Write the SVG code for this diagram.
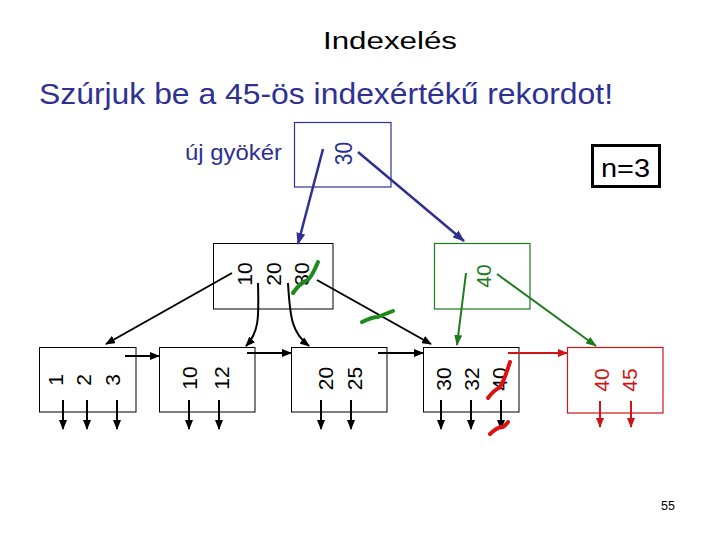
<svg xmlns="http://www.w3.org/2000/svg" width="720" height="540" viewBox="0 0 720 540">
<style>
text{font-family:"Liberation Sans",Arial,sans-serif}
.k{font-size:21px;text-anchor:middle}
.box{fill:none;stroke:#000;stroke-width:1}
.blk{stroke:#000;stroke-width:2;fill:none}
.nav{stroke:#2E3192;stroke-width:2.5;fill:none}
.grn{stroke:#1E7B1E;stroke-width:2;fill:none}
.red{stroke:#D01414;stroke-width:2;fill:none}
.gmark{stroke:#1E8A1E;stroke-width:4;fill:none;stroke-linecap:round}
.rmark{stroke:#E01010;stroke-width:4;fill:none;stroke-linecap:round}
</style>
<defs>
<marker id="ak" markerWidth="10" markerHeight="8" refX="9" refY="4" orient="auto" markerUnits="userSpaceOnUse"><path d="M0,0 L10,4 L0,8 Z" fill="#000"/></marker>
<marker id="an" markerWidth="12" markerHeight="9" refX="11" refY="4.5" orient="auto" markerUnits="userSpaceOnUse"><path d="M0,0 L12,4.5 L0,9 Z" fill="#2E3192"/></marker>
<marker id="ag" markerWidth="11" markerHeight="8" refX="10" refY="4" orient="auto" markerUnits="userSpaceOnUse"><path d="M0,0 L11,4 L0,8 Z" fill="#1E7B1E"/></marker>
<marker id="ar" markerWidth="10" markerHeight="8" refX="9" refY="4" orient="auto" markerUnits="userSpaceOnUse"><path d="M0,0 L10,4 L0,8 Z" fill="#D01414"/></marker>
</defs>
<rect width="720" height="540" fill="#fff"/>
<text x="323" y="49" font-size="23.5" textLength="134" lengthAdjust="spacingAndGlyphs" fill="#000">Indexelés</text>
<text x="39" y="104" font-size="30" textLength="574" lengthAdjust="spacingAndGlyphs" fill="#2E3192">Szúrjuk be a 45-ös indexértékű rekordot!</text>
<text x="185" y="160" font-size="21.5" textLength="97" lengthAdjust="spacingAndGlyphs" fill="#2E3192">új gyökér</text>
<g id="n3">
<rect x="592.5" y="145.5" width="67" height="41" fill="none" stroke="#000" stroke-width="3"/>
<text x="601" y="177" font-size="25" textLength="49" lengthAdjust="spacingAndGlyphs" fill="#000">n=3</text>
</g>
<text x="668" y="510" font-size="12.5" text-anchor="middle" fill="#000">55</text>
<g id="root">
<rect x="294.5" y="122.5" width="96.5" height="64.5" fill="none" stroke="#2E3192" stroke-width="1.2"/>
<text class="k" transform="translate(351.5,153.5) scale(1.15,1) rotate(-90)" fill="#2E3192">30</text>
</g>
<g id="inner1">
<rect class="box" x="213.5" y="243.5" width="119.5" height="65.5"/>
<text class="k" transform="translate(252,274) rotate(-90)">10</text>
<text class="k" transform="translate(280.5,274) rotate(-90)">20</text>
<text class="k" transform="translate(309,274) rotate(-90)">30</text>
</g>
<g id="inner2">
<rect x="434.5" y="243.5" width="95.5" height="65.5" fill="none" stroke="#1E7B1E" stroke-width="1.2"/>
<text class="k" transform="translate(490.5,276) rotate(-90)" fill="#1E7B1E">40</text>
</g>
<g id="leaf1">
<rect class="box" x="39.5" y="347.5" width="96.5" height="64.5"/>
<text class="k" transform="translate(62.5,380) rotate(-90)">1</text>
<text class="k" transform="translate(90.5,380) rotate(-90)">2</text>
<text class="k" transform="translate(119.5,380) rotate(-90)">3</text>
</g>
<g id="leaf2">
<rect class="box" x="159.5" y="347.5" width="95.5" height="64.5"/>
<text class="k" transform="translate(197,378) rotate(-90)">10</text>
<text class="k" transform="translate(229,378) rotate(-90)">12</text>
</g>
<g id="leaf3">
<rect class="box" x="291.5" y="347.5" width="95.5" height="64.5"/>
<text class="k" transform="translate(332.5,378.5) rotate(-90)">20</text>
<text class="k" transform="translate(361.5,378.5) rotate(-90)">25</text>
</g>
<g id="leaf4">
<rect class="box" x="423.5" y="347.5" width="95.5" height="64.5"/>
<text class="k" transform="translate(451,379) rotate(-90)">30</text>
<text class="k" transform="translate(479,379) rotate(-90)">32</text>
<text class="k" transform="translate(506.5,379) rotate(-90)">40</text>
</g>
<g id="leaf5">
<rect x="567.5" y="347.5" width="95.5" height="65.5" fill="none" stroke="#D01414" stroke-width="1.2"/>
<text class="k" transform="translate(608.5,380) rotate(-90)" fill="#D01414">40</text>
<text class="k" transform="translate(637,380) rotate(-90)" fill="#D01414">45</text>
</g>
<g id="connectors">
<line class="nav" x1="323" y1="149" x2="298" y2="244" marker-end="url(#an)"/>
<line class="nav" x1="358" y1="152" x2="464" y2="241" marker-end="url(#an)"/>
<line class="blk" x1="232" y1="273" x2="106" y2="344" marker-end="url(#ak)"/>
<path class="blk" d="M258,283 C259,318 259,332 246,346" marker-end="url(#ak)"/>
<path class="blk" d="M288,283 C290,318 292,333 309,346" marker-end="url(#ak)"/>
<line class="blk" x1="317" y1="280" x2="431" y2="344" marker-end="url(#ak)"/>
<line class="grn" x1="466" y1="273" x2="457" y2="345" marker-end="url(#ag)"/>
<line class="grn" x1="497" y1="274" x2="596" y2="346" marker-end="url(#ag)"/>
<line class="blk" x1="125" y1="356" x2="159" y2="356" marker-end="url(#ak)"/>
<line class="blk" x1="247" y1="353" x2="291" y2="353" marker-end="url(#ak)"/>
<line class="blk" x1="378" y1="353" x2="423" y2="353" marker-end="url(#ak)"/>
<line class="red" x1="508" y1="353" x2="567" y2="353" marker-end="url(#ar)"/>
<g class="blk">
<line x1="63" y1="400" x2="63" y2="429" marker-end="url(#ak)"/>
<line x1="87" y1="400" x2="87" y2="429" marker-end="url(#ak)"/>
<line x1="117" y1="400" x2="117" y2="429" marker-end="url(#ak)"/>
<line x1="189" y1="400" x2="189" y2="429" marker-end="url(#ak)"/>
<line x1="219" y1="400" x2="219" y2="429" marker-end="url(#ak)"/>
<line x1="321" y1="400" x2="321" y2="429" marker-end="url(#ak)"/>
<line x1="351" y1="400" x2="351" y2="429" marker-end="url(#ak)"/>
<line x1="441" y1="400" x2="441" y2="429" marker-end="url(#ak)"/>
<line x1="471" y1="400" x2="471" y2="429" marker-end="url(#ak)"/>
<line x1="501" y1="400" x2="501" y2="429" marker-end="url(#ak)"/>
</g>
<g class="red">
<line x1="600" y1="401" x2="600" y2="427" marker-end="url(#ar)"/>
<line x1="631" y1="401" x2="631" y2="427" marker-end="url(#ar)"/>
</g>
<path class="gmark" d="M293,293 Q300,283 306,281 Q311,279 318,262"/>
<path class="gmark" d="M362,322 Q372,317 378,317 Q385,314 393,311"/>
<path class="rmark" d="M488,398 Q494,390 499,388 Q503,384 510,362"/>
<path class="rmark" d="M490,434 Q498,426 503,427 Q506,425 508,422"/>
</g>
</svg>
